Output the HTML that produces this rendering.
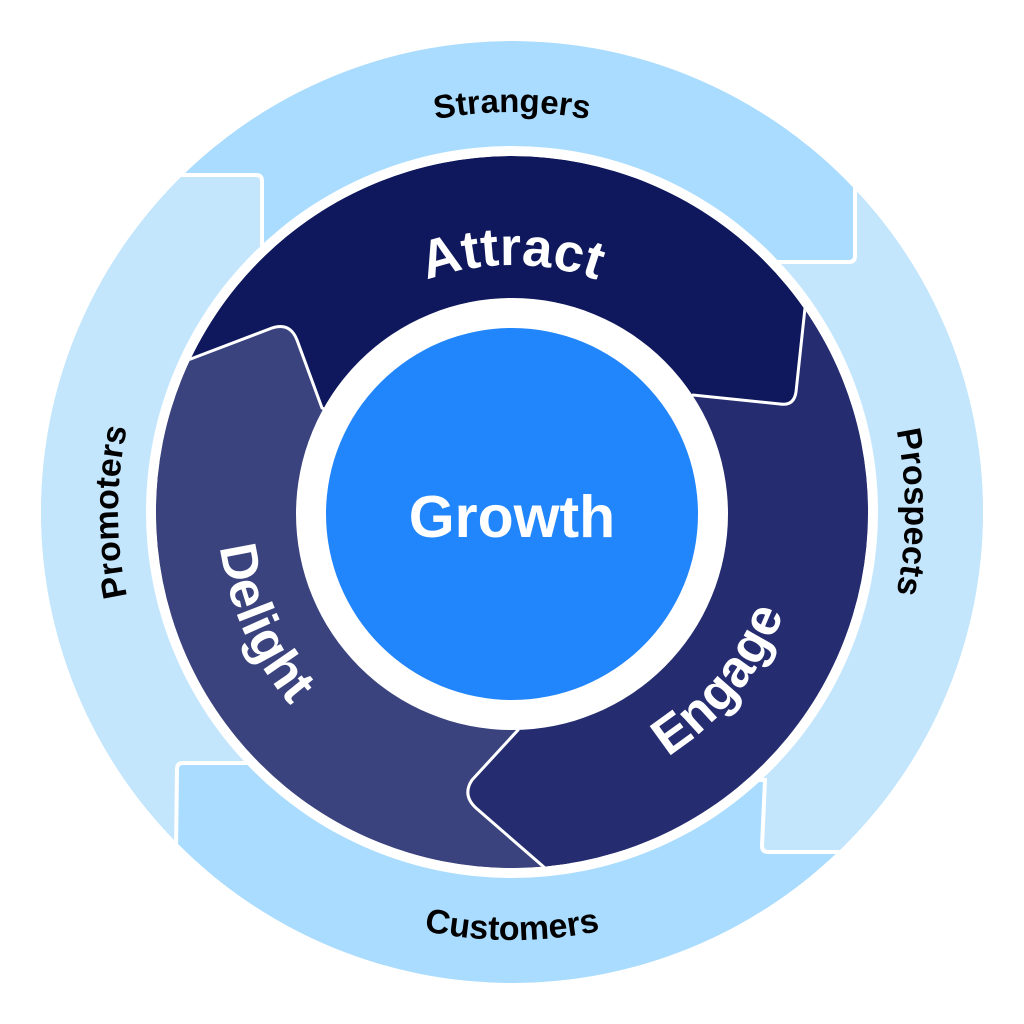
<!DOCTYPE html>
<html><head><meta charset="utf-8"><style>
html,body{margin:0;padding:0;background:#fff;}
svg{display:block;}
text{font-family:"Liberation Sans",sans-serif;font-weight:bold;}
</style></head><body>
<svg width="1024" height="1024" viewBox="0 0 1024 1024" xmlns="http://www.w3.org/2000/svg">
<defs>
<clipPath id="outer"><circle cx="512" cy="512" r="471"/></clipPath>
<clipPath id="dark"><circle cx="512" cy="512" r="356"/></clipPath>
<path id="pTop" d="M112,512 A400,400 0 0 1 912,512"/>
<path id="pBot" d="M84,512 A428,428 0 0 0 940,512"/>
<path id="pRight" d="M512,119 A393,393 0 0 1 512,905"/>
<path id="pLeft" d="M512,906 A394,394 0 0 1 512,118"/>
<path id="pAttract" d="M265,512 A247,247 0 0 1 759,512"/>
<path id="pEngage" d="M329.5,737.4 A290,290 0 0 0 694.5,286.6"/>
<path id="pDelight" d="M390,238 A300,300 0 0 0 634,786"/>
</defs>
<g clip-path="url(#outer)">
  <circle cx="512" cy="512" r="471" fill="#a9dcfe"/>
  <path d="M700,262 L849,262 Q855,262 855,256 L855,120 L1024,120 L1024,852 L768,852 Q762,852 762,846 L765,780 L700,780 Z" fill="#c4e6fd" stroke="#fff" stroke-width="4"/>
  <path d="M0,175 L256,175 Q262,175 262,181 L262,300 L330,300 L330,763 L183,763 Q177,763 177,769 L174,1024 L0,1024 Z" fill="#c4e6fd" stroke="#fff" stroke-width="4"/>
</g>
<circle cx="512" cy="512" r="366" fill="#fff"/>
<g clip-path="url(#dark)">
  <circle cx="512" cy="512" r="356" fill="#0f185c"/>
  <path d="M512,512 L322,408 L297,340 Q290,322 272,328 L188,360 L0,420 L0,1024 L600,1024 Z" fill="#3b437e" stroke="#fff" stroke-width="3"/>
  <path d="M512,512 L693,395 L780,404 Q794,406 796,392 L805,308 L1000,150 L1024,1024 L560,1024 L545,868 L476,808 Q462,795 472,780 L518,730 Z" fill="#252d70" stroke="#fff" stroke-width="3"/>
</g>
<circle cx="512" cy="514" r="216" fill="#fff"/>
<circle cx="512" cy="514" r="186" fill="#2185fb"/>
<text x="512" y="537" font-size="59" fill="#fff" text-anchor="middle">Growth</text>
<text font-size="54" fill="#fff" text-anchor="middle"><textPath href="#pAttract" startOffset="50%">Attract</textPath></text>
<text font-size="52" fill="#fff" text-anchor="middle"><textPath href="#pEngage" startOffset="50%">Engage</textPath></text>
<text font-size="52" fill="#fff" text-anchor="middle"><textPath href="#pDelight" startOffset="50%">Delight</textPath></text>
<text font-size="33" fill="#000" text-anchor="middle"><textPath href="#pTop" startOffset="50%">Strangers</textPath></text>
<text font-size="34" fill="#000" text-anchor="middle"><textPath href="#pBot" startOffset="50%">Customers</textPath></text>
<text font-size="34" fill="#000" text-anchor="middle"><textPath href="#pRight" startOffset="50%">Prospects</textPath></text>
<text font-size="34" fill="#000" text-anchor="middle"><textPath href="#pLeft" startOffset="50%">Promoters</textPath></text>
</svg>
</body></html>
